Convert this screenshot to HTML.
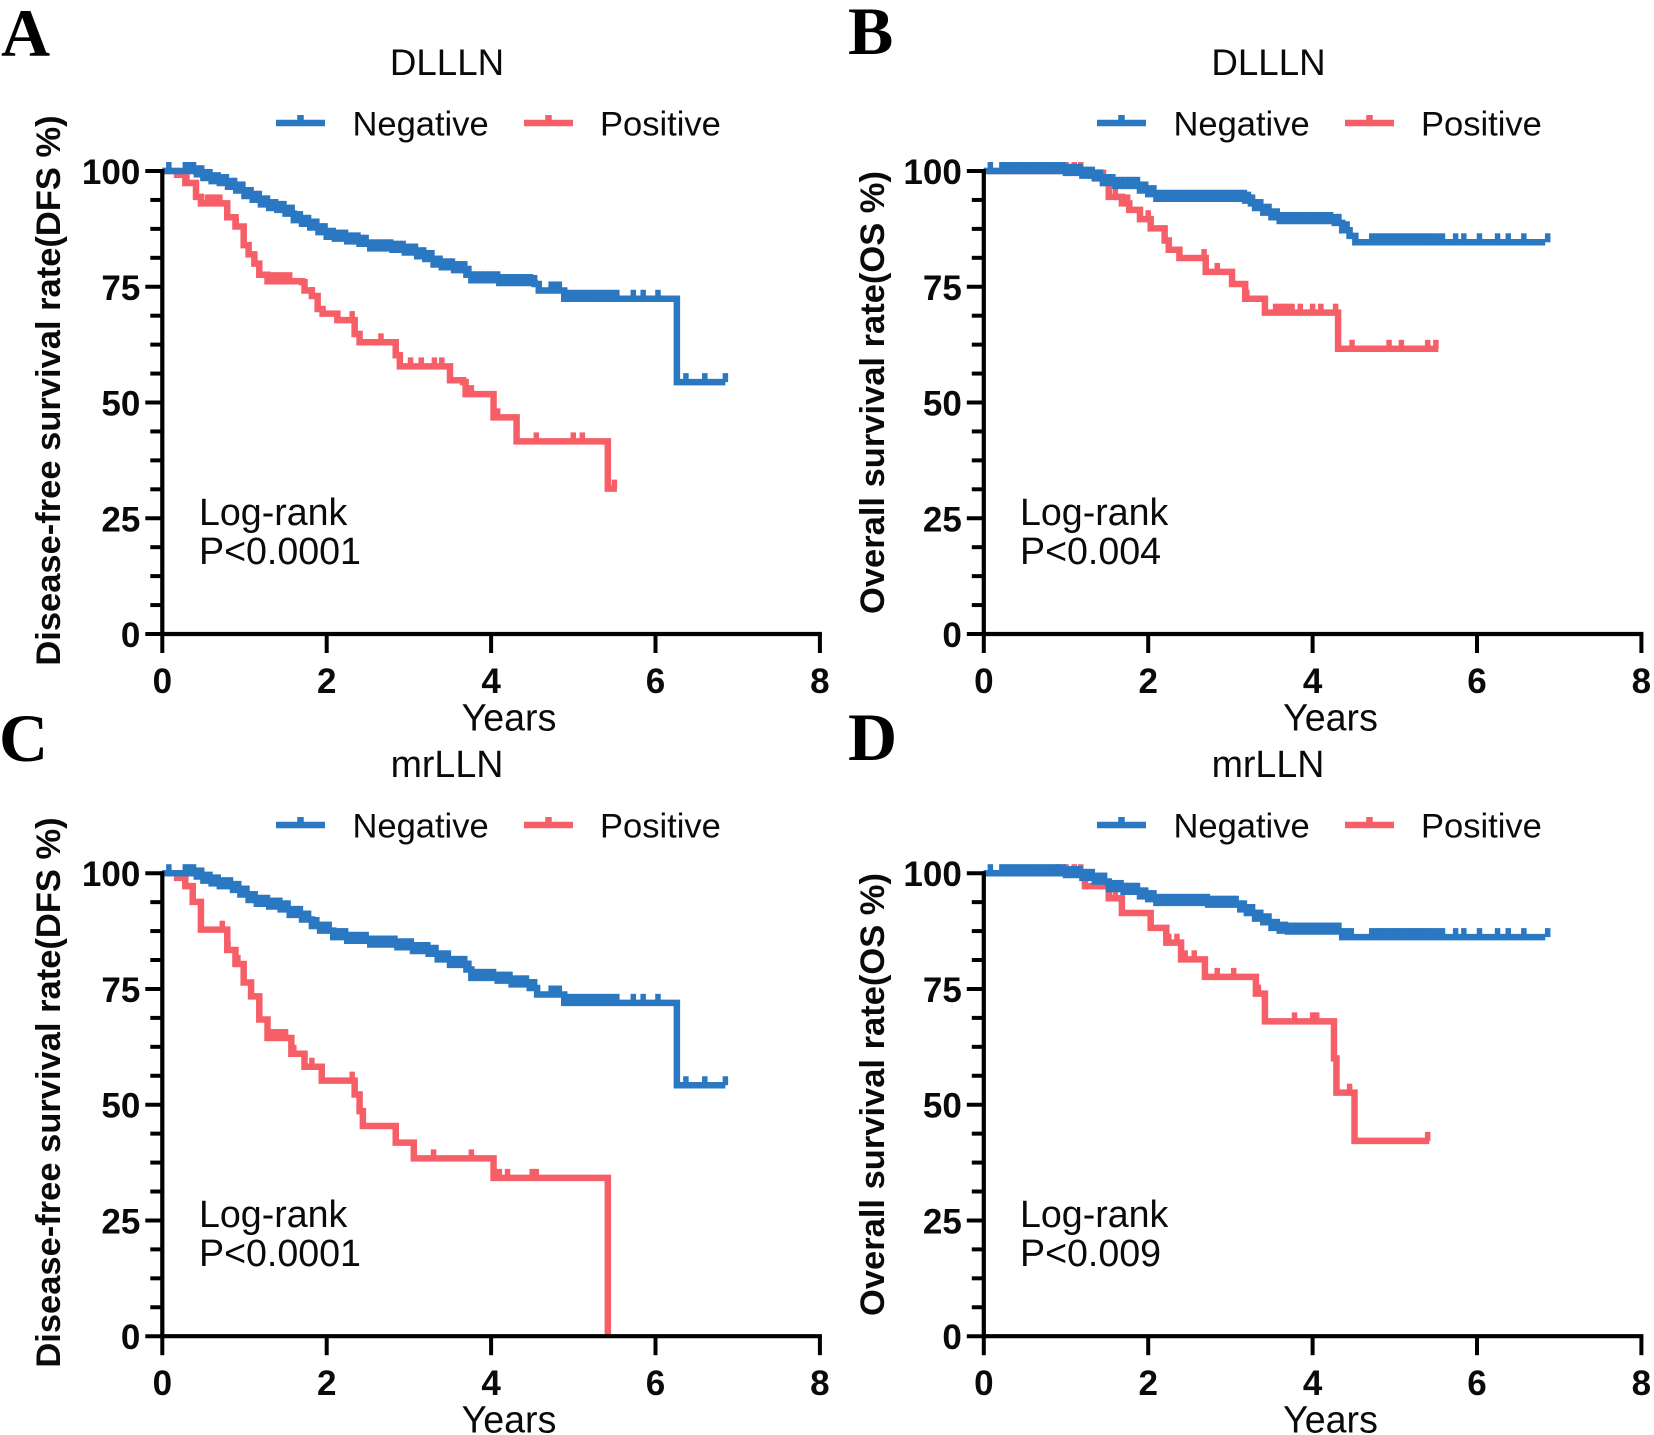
<!DOCTYPE html>
<html lang="en">
<head>
<meta charset="utf-8">
<title>Kaplan-Meier survival curves</title>
<style>
html,body{margin:0;padding:0;background:#fff;}
svg{display:block;}
text{font-family:"Liberation Sans",Arial,sans-serif;fill:#0a0a0a;}
.letter{font-family:"Liberation Serif","Times New Roman",serif;font-weight:bold;font-size:68px;fill:#000;}
.title{font-size:36.7px;text-anchor:middle;}
.title-mr{font-size:37.6px;text-anchor:middle;}
.leg{font-size:34.5px;}
.ytitle{font-size:34.5px;font-weight:bold;text-anchor:middle;}
.xtitle{font-size:37.6px;text-anchor:middle;}
.note{font-size:37.6px;}
.neg{stroke:#2a77c2;stroke-width:6.500;fill:none;}
.pos{stroke:#f65f67;stroke-width:6.500;fill:none;}
</style>
</head>
<body>
<svg id="figure" xmlns="http://www.w3.org/2000/svg" width="1654" height="1435" viewBox="0 0 1654 1435">
<rect width="1654" height="1435" fill="#fff"/>

<!-- Panel A -->
<g>
<text class="letter" x="1" y="56">A</text>
<text class="title" x="447" y="75">DLLLN</text>
<path class="neg" d="M276 123H325M300.500 123V115"/>
<text class="leg" x="352.500" y="135.500">Negative</text>
<path class="pos" d="M524 123H573M548.500 123V115"/>
<text class="leg" x="600" y="135.500">Positive</text>
<text class="ytitle" transform="translate(60 390.500) rotate(-90)">Disease-free survival rate(DFS %)</text>
<text class="xtitle" x="509" y="730.500">Years</text>
<text class="note" x="199" y="525">Log-rank</text>
<text class="note" x="199" y="564">P&lt;0.0001</text>
<g id="plotA" transform="translate(162.300 634)"></g>
</g>

<!-- Panel B -->
<g>
<text class="letter" x="848" y="54">B</text>
<text class="title" x="1268.500" y="75">DLLLN</text>
<path class="neg" d="M1097 123H1146M1121.500 123V115"/>
<text class="leg" x="1173.500" y="135.500">Negative</text>
<path class="pos" d="M1345 123H1394M1369.500 123V115"/>
<text class="leg" x="1421" y="135.500">Positive</text>
<text class="ytitle" transform="translate(884 392.500) rotate(-90)">Overall survival rate(OS %)</text>
<text class="xtitle" x="1330.500" y="730.500">Years</text>
<text class="note" x="1020" y="525">Log-rank</text>
<text class="note" x="1020" y="564">P&lt;0.004</text>
<g id="plotB" transform="translate(983.800 634)"></g>
</g>

<!-- Panel C -->
<g>
<text class="letter" x="-1" y="761">C</text>
<text class="title-mr" x="447" y="777">mrLLN</text>
<path class="neg" d="M276 825H325M300.500 825V817"/>
<text class="leg" x="352.500" y="837.500">Negative</text>
<path class="pos" d="M524 825H573M548.500 825V817"/>
<text class="leg" x="600" y="837.500">Positive</text>
<text class="ytitle" transform="translate(60 1092.500) rotate(-90)">Disease-free survival rate(DFS %)</text>
<text class="xtitle" x="509" y="1432.500">Years</text>
<text class="note" x="199" y="1227">Log-rank</text>
<text class="note" x="199" y="1266">P&lt;0.0001</text>
<g id="plotC" transform="translate(162.300 1336.200)"></g>
</g>

<!-- Panel D -->
<g>
<text class="letter" x="848" y="760">D</text>
<text class="title-mr" x="1268" y="777">mrLLN</text>
<path class="neg" d="M1097 825H1146M1121.500 825V817"/>
<text class="leg" x="1173.500" y="837.500">Negative</text>
<path class="pos" d="M1345 825H1394M1369.500 825V817"/>
<text class="leg" x="1421" y="837.500">Positive</text>
<text class="ytitle" transform="translate(884 1094.500) rotate(-90)">Overall survival rate(OS %)</text>
<text class="xtitle" x="1330.500" y="1432.500">Years</text>
<text class="note" x="1020" y="1227">Log-rank</text>
<text class="note" x="1020" y="1266">P&lt;0.009</text>
<g id="plotD" transform="translate(983.800 1336.200)"></g>
</g>
</svg>

<script>
var xTickLabels = [0, 2, 4, 6, 8];
var yTickLabels = [0, 25, 50, 75, 100];
var yMinorTicks = [6.25, 12.5, 18.75, 31.25, 37.5, 43.75, 56.25, 62.5, 68.75, 81.25, 87.5, 93.75];

/* Panel A: DFS by DLLLN */
var aNegTimes = [0.42,0.5,0.6,0.7,0.8,0.9,1,1.1,1.2,1.3,1.4,1.5,1.6,1.7,1.8,1.9,2,2.1,2.25,2.4,2.53,2.8,2.95,3.1,3.2,3.3,3.4,3.55,3.7,3.76,4.1,4.53,4.58,4.89,6.26];
var aNegSurv  = [99.3,98.5,97.8,97.4,96.6,95.8,94.6,93.8,92.8,92,91.6,90.8,89.4,88.6,87.8,86.8,85.8,85.4,84.8,84.3,83.3,83,82.4,81.6,81,79.8,79.2,78.6,77.6,76.4,75.8,75.6,74.2,72.4,54.4];
var aNegEnd = 6.85;
var aNegCensor = [0.08,0.28,0.33,0.38,0.43,0.48,0.53,0.58,0.63,0.68,0.73,0.78,0.83,0.88,0.93,0.98,1.03,1.08,1.13,1.18,1.23,1.28,1.33,1.38,1.43,1.48,1.53,1.58,1.63,1.68,1.73,1.78,1.83,1.88,1.93,1.98,2.03,2.08,2.13,2.18,2.23,2.28,2.33,2.38,2.43,2.48,2.53,2.58,2.63,2.68,2.73,2.78,2.83,2.88,2.93,2.98,3.03,3.08,3.13,3.18,3.23,3.28,3.33,3.38,3.43,3.48,3.53,3.58,3.63,3.68,3.73,3.78,3.83,3.88,3.93,3.98,4.03,4.08,4.13,4.18,4.23,4.28,4.33,4.38,4.43,4.48,4.53,4.73,4.78,4.83,4.93,4.98,5.03,5.08,5.13,5.18,5.23,5.28,5.33,5.38,5.43,5.48,5.53,5.73,5.85,6.03,6.37,6.6,6.85];
var aPosTimes = [0.18,0.28,0.41,0.47,0.7,0.79,0.89,0.99,1.05,1.12,1.18,1.28,1.7,1.73,1.82,1.89,1.95,2.13,2.34,2.4,2.84,2.89,3.5,3.66,3.69,4.03,4.31,5.42];
var aPosSurv  = [99.2,97.4,94.4,93,93,90,88,84,82,80,77.6,76.2,76,74.2,73,70.2,69.2,67.8,64.8,63,60.2,57.8,54.8,54.4,51.8,46.8,41.6,31.4];
var aPosEnd = 5.53;
var aPosCensor = [0.3,0.55,0.6,0.65,0.7,0.9,1.05,1.35,1.4,1.45,1.5,1.55,1.82,2.31,2.66,3.02,3.15,3.31,3.4,3.72,3.76,4.08,4.55,5,5.11,5.5];

/* Panel B: OS by DLLLN */
var bNegTimes = [0.8,1,1.2,1.35,1.45,1.6,1.9,2,2.1,3.18,3.25,3.3,3.4,3.5,3.6,4.27,4.36,4.45,4.52];
var bNegSurv  = [100,99.6,99,98.4,97.4,96.8,95.8,95,94,93.6,93,92,91,90,89.2,88.8,87.2,86,84.6];
var bNegEnd = 6.83;
var bNegCensor = [0.08,0.22,0.27,0.32,0.37,0.42,0.47,0.52,0.57,0.62,0.67,0.72,0.77,0.82,0.87,0.92,0.97,1.02,1.07,1.12,1.17,1.22,1.27,1.32,1.37,1.42,1.47,1.52,1.57,1.62,1.67,1.72,1.77,1.82,1.87,1.92,1.97,2.02,2.07,2.12,2.17,2.22,2.27,2.32,2.37,2.42,2.47,2.52,2.57,2.62,2.67,2.72,2.77,2.82,2.87,2.92,2.97,3.02,3.07,3.12,3.17,3.22,3.27,3.32,3.37,3.42,3.47,3.52,3.57,3.62,3.67,3.72,3.77,3.82,3.87,3.92,3.97,4.02,4.07,4.12,4.17,4.22,4.27,4.32,4.37,4.42,4.72,4.77,4.82,4.87,4.92,4.97,5.02,5.07,5.12,5.17,5.22,5.27,5.32,5.37,5.42,5.47,5.52,5.58,5.74,5.84,6.03,6.25,6.38,6.57,6.86];
var bPosTimes = [1.2,1.45,1.52,1.68,1.77,1.9,2.03,2.2,2.25,2.38,2.7,3.02,3.18,3.42,4.31];
var bPosSurv  = [99.6,97.4,94.4,93,91.6,89.6,87.6,85,83,81.2,78.2,75.6,72.4,69.4,61.6];
var bPosEnd = 5.53;
var bPosCensor = [0.9,1,1.1,1.18,1.6,1.75,2,2.2,2.68,2.84,3.2,3.42,3.55,3.6,3.65,3.7,3.75,3.85,4,4.1,4.28,4.48,4.93,5.08,5.4,5.5];

/* Panel C: DFS by mrLLN */
var cNegTimes = [0.42,0.5,0.6,0.7,0.86,0.95,1.05,1.15,1.3,1.44,1.55,1.7,1.82,1.92,2.08,2.25,2.53,2.86,3.05,3.24,3.35,3.5,3.7,3.76,4.08,4.25,4.47,4.56,4.89,6.26];
var cNegSurv  = [99.3,98.4,97.8,97.2,96.4,95.4,94.2,93.4,92.8,92.2,91,90,88.6,87.6,86.2,85.4,84.6,84,83.2,82.6,81.4,80.2,79.2,77.4,76.8,76,75.2,73.8,72,54.2];
var cNegEnd = 6.85;
var cNegCensor = [0.08,0.28,0.33,0.38,0.43,0.48,0.53,0.58,0.63,0.68,0.73,0.78,0.83,0.88,0.93,0.98,1.03,1.08,1.13,1.18,1.23,1.28,1.33,1.38,1.43,1.48,1.53,1.58,1.63,1.68,1.73,1.78,1.83,1.88,1.93,1.98,2.03,2.08,2.13,2.18,2.23,2.28,2.33,2.38,2.43,2.48,2.53,2.58,2.63,2.68,2.73,2.78,2.83,2.88,2.93,2.98,3.03,3.08,3.13,3.18,3.23,3.28,3.33,3.38,3.43,3.48,3.53,3.58,3.63,3.68,3.73,3.78,3.83,3.88,3.93,3.98,4.03,4.08,4.13,4.18,4.23,4.28,4.33,4.38,4.43,4.48,4.53,4.73,4.78,4.83,4.93,4.98,5.03,5.08,5.13,5.18,5.23,5.28,5.33,5.38,5.43,5.48,5.53,5.73,5.85,6.03,6.37,6.6,6.85];
var cPosTimes = [0.18,0.28,0.37,0.47,0.73,0.79,0.89,0.99,1.08,1.18,1.28,1.57,1.73,1.94,2.34,2.4,2.44,2.84,3.06,4.03,5.42];
var cPosSurv  = [99,97.2,93.8,87.8,87.8,83.4,80.4,76.4,73.4,68.4,64.4,61,58.2,55.2,52.2,48.6,45.4,41.8,38.4,34.2,0];
var cPosEnd = 5.42;
var cPosCensor = [0.28,0.73,0.8,0.92,1.32,1.38,1.44,1.5,1.6,1.82,2.31,3.3,3.76,4.1,4.2,4.5,4.55];

/* Panel D: OS by mrLLN */
var dNegTimes = [0.8,1,1.2,1.35,1.52,1.7,1.9,2,2.1,2.73,3.12,3.2,3.3,3.4,3.5,3.6,3.7,4.36];
var dNegSurv  = [100,99.6,99,98.2,96.6,96,95,94.4,93.6,93.2,92.2,91.4,90.2,89.4,88.2,87.6,87.4,86.2];
var dNegEnd = 6.83;
var dNegCensor = [0.08,0.22,0.27,0.32,0.37,0.42,0.47,0.52,0.57,0.62,0.67,0.72,0.77,0.82,0.87,0.92,0.97,1.02,1.07,1.12,1.17,1.22,1.27,1.32,1.37,1.42,1.47,1.52,1.57,1.62,1.67,1.72,1.77,1.82,1.87,1.92,1.97,2.02,2.07,2.12,2.17,2.22,2.27,2.32,2.37,2.42,2.47,2.52,2.57,2.62,2.67,2.72,2.77,2.82,2.87,2.92,2.97,3.02,3.07,3.12,3.17,3.22,3.27,3.32,3.37,3.42,3.47,3.52,3.57,3.62,3.67,3.72,3.77,3.82,3.87,3.92,3.97,4.02,4.07,4.12,4.17,4.22,4.27,4.32,4.37,4.42,4.47,4.72,4.77,4.82,4.87,4.92,4.97,5.02,5.07,5.12,5.17,5.22,5.27,5.32,5.37,5.42,5.47,5.52,5.58,5.74,5.84,6.03,6.25,6.38,6.57,6.86];
var dPosTimes = [1.23,1.52,1.68,2.03,2.22,2.4,2.69,3.31,3.42,4.26,4.29,4.51];
var dPosSurv  = [97.2,94.6,91.4,88.2,85,81.4,77.6,74,68,60,52.6,42.2];
var dPosEnd = 5.42;
var dPosCensor = [0.9,1,1.1,1.18,1.6,2.25,2.35,2.45,2.56,2.84,3.04,3.34,3.78,4,4.05,4.45,5.4];

var NS = 'http://www.w3.org/2000/svg';
var plotWidthPerYear = 82.2;
var plotHeightPerPct = 4.63;

function xScale(t) { return t * plotWidthPerYear; }
function yScale(p) { return -p * plotHeightPerPct; }

function survivalAt(times, surv, t) {
  var s = 100;
  for (var i = 0; i < times.length; i++) {
    if (times[i] <= t) { s = surv[i]; }
  }
  return s;
}

function drawAxes(plot, panelKey) {
  var i, el, v;
  for (i = 0; i < yMinorTicks.length; i++) {
    el = document.createElementNS(NS, 'line');
    
    
    el.setAttribute('x1', -12);
    el.setAttribute('x2', 0);
    el.setAttribute('y1', yScale(yMinorTicks[i]));
    el.setAttribute('y2', yScale(yMinorTicks[i]));
    el.setAttribute('stroke', '#000');
    el.setAttribute('stroke-width', 4);
    plot.appendChild(el);
  }
  for (i = 0; i < yTickLabels.length; i++) {
    v = yTickLabels[i];
    el = document.createElementNS(NS, 'line');
    
    
    el.setAttribute('x1', -17);
    el.setAttribute('x2', 0);
    el.setAttribute('y1', yScale(v));
    el.setAttribute('y2', yScale(v));
    el.setAttribute('stroke', '#000');
    el.setAttribute('stroke-width', 4);
    plot.appendChild(el);
    el = document.createElementNS(NS, 'text');
    
    
    el.setAttribute('x', -22);
    el.setAttribute('y', yScale(v) + 13);
    el.setAttribute('text-anchor', 'end');
    el.setAttribute('font-size', '35');
    el.setAttribute('font-weight', 'bold');
    el.textContent = String(v);
    plot.appendChild(el);
  }
  for (i = 0; i < xTickLabels.length; i++) {
    v = xTickLabels[i];
    el = document.createElementNS(NS, 'line');
    
    
    el.setAttribute('x1', xScale(v));
    el.setAttribute('x2', xScale(v));
    el.setAttribute('y1', 0);
    el.setAttribute('y2', 19);
    el.setAttribute('stroke', '#000');
    el.setAttribute('stroke-width', 4);
    plot.appendChild(el);
    el = document.createElementNS(NS, 'text');
    
    
    el.setAttribute('x', xScale(v));
    el.setAttribute('y', 59);
    el.setAttribute('text-anchor', 'middle');
    el.setAttribute('font-size', '35');
    el.setAttribute('font-weight', 'bold');
    el.textContent = String(v);
    plot.appendChild(el);
  }
  el = document.createElementNS(NS, 'path');
  
  
  el.setAttribute('d', 'M0 ' + (yScale(100) - 2) + 'V0H' + (xScale(8) + 2));
  el.setAttribute('fill', 'none');
  el.setAttribute('stroke', '#000');
  el.setAttribute('stroke-width', 4.2);
  plot.appendChild(el);
}

function drawSeries(plot, cls, name, times, surv, endT, censor) {
  var d = 'M' + xScale(0) + ' ' + yScale(100);
  for (var i = 0; i < times.length; i++) {
    d += 'H' + xScale(times[i]) + 'V' + yScale(surv[i]);
  }
  d += 'H' + xScale(endT);
  var curve = document.createElementNS(NS, 'path');
  
  
  curve.setAttribute('class', cls);
  curve.setAttribute('d', d);
  plot.appendChild(curve);
  for (var j = 0; j < censor.length; j++) {
    var s = survivalAt(times, surv, censor[j]);
    var tick = document.createElementNS(NS, 'line');
    
    
    tick.setAttribute('x1', xScale(censor[j]));
    tick.setAttribute('x2', xScale(censor[j]));
    tick.setAttribute('y1', yScale(s));
    tick.setAttribute('y2', yScale(s) - 9);
    tick.setAttribute('class', cls);
    tick.setAttribute('style', 'stroke-width:5.5');
    plot.appendChild(tick);
  }
}

var plotA = document.getElementById('plotA');
var plotB = document.getElementById('plotB');
var plotC = document.getElementById('plotC');
var plotD = document.getElementById('plotD');

drawSeries(plotA, 'pos', 'positive-a', aPosTimes, aPosSurv, aPosEnd, aPosCensor);
drawSeries(plotA, 'neg', 'negative-a', aNegTimes, aNegSurv, aNegEnd, aNegCensor);
drawAxes(plotA, 'a');

drawSeries(plotB, 'pos', 'positive-b', bPosTimes, bPosSurv, bPosEnd, bPosCensor);
drawSeries(plotB, 'neg', 'negative-b', bNegTimes, bNegSurv, bNegEnd, bNegCensor);
drawAxes(plotB, 'b');

drawSeries(plotC, 'pos', 'positive-c', cPosTimes, cPosSurv, cPosEnd, cPosCensor);
drawSeries(plotC, 'neg', 'negative-c', cNegTimes, cNegSurv, cNegEnd, cNegCensor);
drawAxes(plotC, 'c');

drawSeries(plotD, 'pos', 'positive-d', dPosTimes, dPosSurv, dPosEnd, dPosCensor);
drawSeries(plotD, 'neg', 'negative-d', dNegTimes, dNegSurv, dNegEnd, dNegCensor);
drawAxes(plotD, 'd');
</script>
</body>
</html>
